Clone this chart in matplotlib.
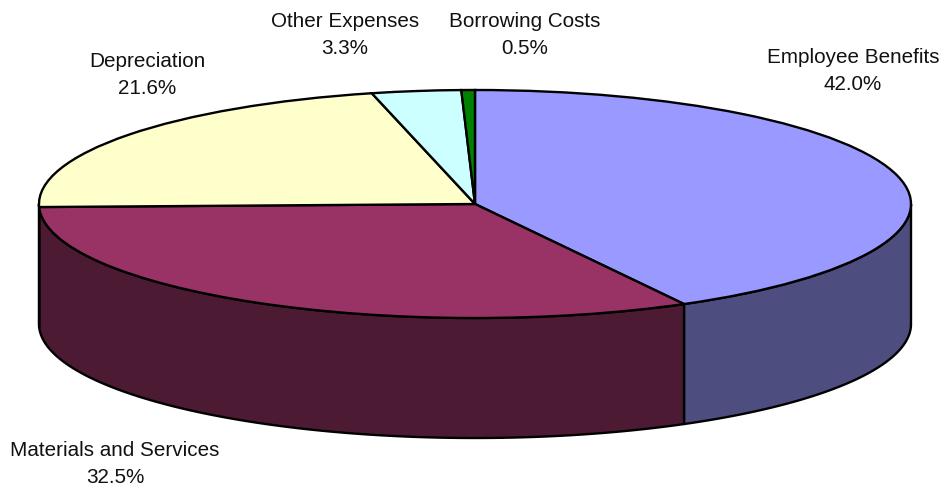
import numpy as np
import matplotlib
matplotlib.use("Agg")
import matplotlib.pyplot as plt

plt.rcParams["font.family"] = ["Liberation Sans", "DejaVu Sans"]

categories = ["Employee Benefits", "Materials and Services", "Depreciation",
              "Other Expenses", "Borrowing Costs"]
shares = [42.0, 32.5, 21.6, 3.3, 0.5]
top_colors = ["#9999FF", "#993366", "#FFFFCC", "#CCFFFF", "#008000"]
side_colors = ["#4D4D80", "#4D1A33", "#80805F", "#668080", "#004000"]
label_anchor = [(853, 71), (115, 464), (147, 75), (345, 35), (525, 35)]

W, H = 944, 488
CX, CY, RX, RY, DEPTH = 475, 204, 436, 114, 120
EDGE = 1.7

fig = plt.figure(figsize=(W / 100, H / 100), dpi=100)
ax = fig.add_axes([0, 0, 1, 1])

wedges, _ = ax.pie(shares, startangle=90, counterclock=False, radius=1,
                   colors=top_colors,
                   wedgeprops={"edgecolor": "black", "linewidth": EDGE, "zorder": 3})

# The pie is flattened into an ellipse by letting each axis scale independently.
ax.set_aspect("auto")
ax.set_xlim(-CX / RX, (W - CX) / RX)
ax.set_ylim((CY - H) / RY, CY / RY)
ax.axis("off")

drop = DEPTH / RY

# Extruded rim: only the part of each wedge on the front half is visible.
for wedge, shade in zip(wedges, side_colors):
    a0, a1 = sorted((wedge.theta1, wedge.theta2))
    for shift in (0, -360):
        lo, hi = max(a0 + shift, -180), min(a1 + shift, 0)
        if hi <= lo:
            continue
        t = np.radians(np.linspace(lo, hi, 200))
        x = np.cos(t)
        y = np.sin(t)
        ax.fill(np.r_[x, x[::-1]], np.r_[y, y[::-1] - drop],
                facecolor=shade, edgecolor="black", linewidth=EDGE,
                joinstyle="round", zorder=2)

for name, share, (px, py) in zip(categories, shares, label_anchor):
    ax.text(px / W, 1 - py / H, f"{name}\n{share:.1f}%", transform=ax.transAxes,
            ha="center", va="center", fontsize=14.9, color="#111111", linespacing=1.58)

fig.savefig("out.png", dpi=100)
